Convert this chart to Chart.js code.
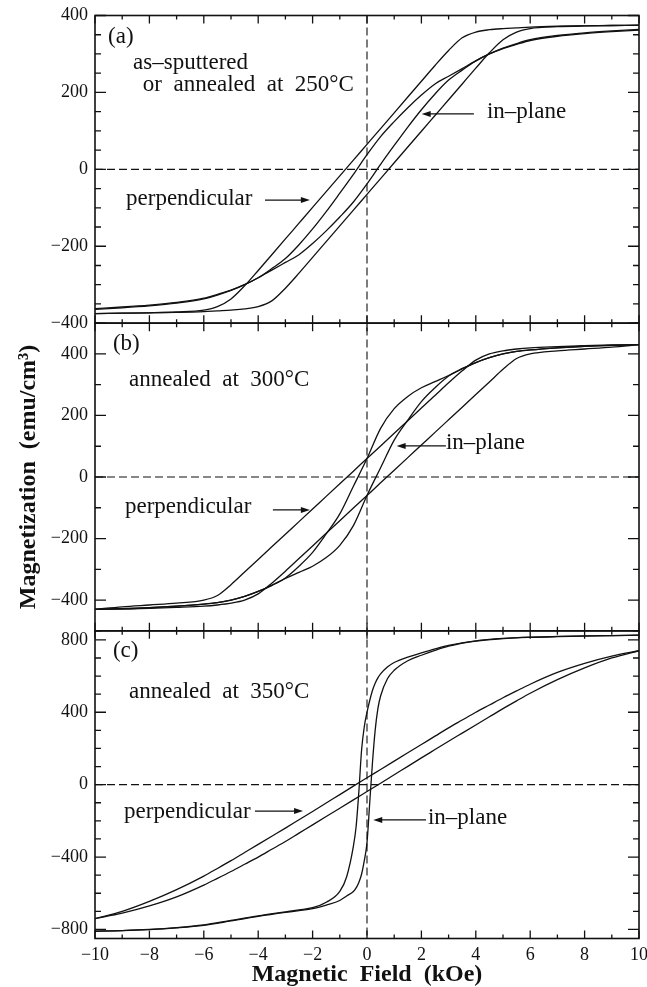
<!DOCTYPE html>
<html>
<head>
<meta charset="utf-8">
<title>Magnetization loops</title>
<script src="https://cdn.jsdelivr.net/npm/chart.js@4.4.0/dist/chart.umd.min.js"></script>
<style>
body { margin: 0; background: #fff; }
canvas { display: block; }
</style>
</head>
<body>
<canvas id="loops" width="647" height="987"></canvas>
<script>
// field values (kOe) shared by most branches
var fieldGrid = [-10,-9,-8,-7,-6,-5.5,-5,-4.5,-4,-3.5,-3,-2.5,-2,-1.5,-1,-0.5,0,0.5,1,1.5,2,2.5,3,3.5,4,4.5,5,5.5,6,7,8,9,10];
// finer grid for the square in-plane loop of (c)
var fieldFine = [-10,-9,-8,-7,-6,-5,-4,-3,-2.5,-2,-1.5,-1,-0.75,-0.5,-0.4,-0.3,-0.2,-0.1,0,0.1,0.2,0.3,0.4,0.5,0.75,1,1.5,2,2.5,3,4,5,6,7,8,9,10];

// (a) as-sputtered / 250C
var perpA_dec = [-375,-374,-373,-371,-366,-357,-337,-303,-263,-222,-181,-140,-99,-58,-17,24,65,106,147,188,229,270,309,342,357,363,366,368,370,372,373,374,375];
var perpA_inc = [-375,-374,-373,-372,-370,-368,-366,-363,-357,-342,-309,-270,-229,-188,-147,-106,-65,-24,17,58,99,140,181,222,263,303,337,357,366,371,373,374,375];
var inplA_dec = [-362,-358,-353,-346,-335,-325,-314,-300,-282,-258,-232,-196,-155,-110,-62,-13,38,85,124,160,193,222,242,262,282,300,315,327,337,348,355,360,364];
var inplA_inc = [-364,-360,-355,-348,-337,-327,-315,-300,-282,-262,-242,-222,-193,-160,-124,-85,-38,13,62,110,155,196,232,258,282,300,314,325,335,346,353,358,362];

// (b) 300C
var perpB_dec = [-430,-422,-416,-410,-400,-385,-350,-309,-268,-227,-186,-145,-104,-63,-22,19,60,101,142,183,224,265,306,345,380,400,410,416,420,424,427,429,430];
var perpB_inc = [-430,-429,-427,-424,-420,-416,-410,-400,-380,-345,-306,-265,-224,-183,-142,-101,-60,-19,22,63,104,145,186,227,268,309,350,385,400,410,416,422,430];
var inplB_dec = [-430,-428,-425,-420,-413,-408,-400,-388,-372,-352,-328,-290,-245,-185,-120,-30,60,158,222,262,290,310,330,352,372,388,400,408,413,420,425,428,430];
var inplB_inc = [-430,-428,-425,-420,-413,-408,-400,-388,-372,-352,-330,-310,-290,-262,-222,-158,-60,30,120,185,245,290,328,352,372,388,400,408,413,420,425,428,430];

// (c) 350C
var perpC_dec = [-740,-700,-645,-580,-505,-463,-420,-375,-330,-285,-240,-194,-148,-101,-55,-8,38,84,130,176,222,268,314,357,400,440,480,518,555,620,670,710,740];
var perpC_inc = [-740,-710,-670,-620,-555,-518,-480,-440,-400,-357,-314,-268,-222,-176,-130,-84,-38,8,55,101,148,194,240,285,330,375,420,463,505,580,645,700,740];
var inplC_dec = [-809,-806,-800,-790,-775,-750,-725,-703,-692,-680,-650,-590,-510,-340,-231,-40,190,320,400,465,520,560,590,612,650,675,705,728,750,770,795,808,815,819,822,824,826];
var inplC_inc = [-810,-807,-801,-791,-777,-753,-728,-706,-696,-685,-665,-640,-615,-590,-570,-540,-495,-420,-320,-100,120,300,420,490,585,632,685,715,742,765,793,807,814,818,821,823,826];

// labelled ticks
var fieldLabels = [-10,-8,-6,-4,-2,0,2,4,6,8,10];
var ticksA = [-400,-200,0,200,400];
var ticksB = [-400,-200,0,200,400];
var ticksC = [-800,-400,0,400,800];

var ink = '#111';
var serif = 'Liberation Serif';

var panels = {
    ya: {min: -400, max: 400, minor: 50, labels: ticksA},
    yb: {min: -500, max: 500, minor: 100, labels: ticksB},
    yc: {min: -850, max: 850, minor: 100, labels: ticksC}
};

// text and arrows, placed in field / magnetization units of each panel
var notes = [
    {axis: 'ya', x: -9.52, y: 344, text: '(a)'},
    {axis: 'ya', x: -8.6, y: 276, text: 'as\u2013sputtered'},
    {axis: 'ya', x: -8.24, y: 219, text: 'or  annealed  at  250\u00b0C'},
    {axis: 'ya', x: -8.86, y: -77, text: 'perpendicular'},
    {axis: 'ya', x: 4.41, y: 149, text: 'in\u2013plane'},
    {axis: 'yb', x: -9.34, y: 432, text: '(b)'},
    {axis: 'yb', x: -8.75, y: 315, text: 'annealed  at  300\u00b0C'},
    {axis: 'yb', x: -8.9, y: -97, text: 'perpendicular'},
    {axis: 'yb', x: 2.9, y: 110, text: 'in\u2013plane'},
    {axis: 'yc', x: -9.34, y: 739, text: '(c)'},
    {axis: 'yc', x: -8.75, y: 512, text: 'annealed  at  350\u00b0C'},
    {axis: 'yc', x: -8.93, y: -151, text: 'perpendicular'},
    {axis: 'yc', x: 2.24, y: -184, text: 'in\u2013plane'}
];
var arrows = [
    {axis: 'ya', from: -3.75, to: -2.1, y: -80},
    {axis: 'ya', from: 3.93, to: 2.01, y: 144},
    {axis: 'yb', from: -3.46, to: -2.1, y: -107},
    {axis: 'yb', from: 2.9, to: 1.09, y: 101},
    {axis: 'yc', from: -4.12, to: -2.35, y: -146},
    {axis: 'yc', from: 2.17, to: 0.23, y: -195}
];

var fmt = function(v){
    return v < 0 ? '\u2212' + Math.abs(v) : String(v);
};

var branch = function(fields, values, axis){
    return {
        data: fields.map(function(h, i){ return {x: h, y: values[i]}; }),
        yAxisID: axis,
        borderColor: ink,
        borderWidth: 1.3,
        pointRadius: 0,
        fill: false,
        cubicInterpolationMode: 'monotone'
    };
};

var yScale = function(id, title){
    var p = panels[id];
    return {
        type: 'linear',
        position: 'left',
        stack: 'mag',
        stackWeight: 1,
        min: p.min,
        max: p.max,
        grid: {display: false, drawTicks: false},
        border: {display: false},
        afterBuildTicks: function(s){
            var t = [];
            for (var v = Math.ceil(p.min / p.minor) * p.minor; v <= p.max; v += p.minor) t.push({value: v});
            s.ticks = t;
        },
        afterFit: function(s){
            s.width = 95;
            s.paddingTop = 0;
            s.paddingBottom = 0;
        },
        ticks: {
            autoSkip: false,
            padding: 7,
            color: ink,
            font: {family: serif, size: 18},
            callback: function(v){ return p.labels.indexOf(v) >= 0 ? fmt(v) : ''; }
        },
        title: title ? {
            display: true,
            text: title,
            color: ink,
            font: {family: serif, size: 24, weight: 'bold', lineHeight: 1},
            padding: {top: 17, bottom: 0}
        } : {display: false}
    };
};

var drawArrow = function(ctx, x1, x2, y){
    var d = x2 > x1 ? 1 : -1;
    ctx.beginPath();
    ctx.moveTo(x1, y);
    ctx.lineTo(x2 - d * 4, y);
    ctx.stroke();
    ctx.beginPath();
    ctx.moveTo(x2, y);
    ctx.lineTo(x2 - d * 9, y - 3);
    ctx.lineTo(x2 - d * 9, y + 3);
    ctx.closePath();
    ctx.fill();
};

// frames, inward ticks, zero lines and annotations
var framePlugin = {
    id: 'frames',
    afterDraw: function(chart){
        var ctx = chart.ctx, area = chart.chartArea, xs = chart.scales.x;
        ctx.save();
        ctx.strokeStyle = ink;
        ctx.fillStyle = ink;
        Object.keys(panels).forEach(function(id){
            var s = chart.scales[id];
            var y0 = s.getPixelForValue(0);
            ctx.setLineDash([8, 4]);
            ctx.lineWidth = 1.1;
            ctx.beginPath();
            ctx.moveTo(area.left, y0);
            ctx.lineTo(area.right, y0);
            ctx.stroke();
            ctx.setLineDash([]);

            ctx.lineWidth = 1.3;
            ctx.beginPath();
            s.ticks.forEach(function(t){
                var y = s.getPixelForValue(t.value);
                var len = panels[id].labels.indexOf(t.value) >= 0 ? 11 : 6;
                ctx.moveTo(area.left, y); ctx.lineTo(area.left + len, y);
                ctx.moveTo(area.right, y); ctx.lineTo(area.right - len, y);
            });
            xs.ticks.forEach(function(t){
                var x = xs.getPixelForValue(t.value);
                var len = t.value % 2 === 0 ? 8 : 4;
                ctx.moveTo(x, s.top); ctx.lineTo(x, s.top + len);
                ctx.moveTo(x, s.bottom); ctx.lineTo(x, s.bottom - len);
            });
            ctx.stroke();

            ctx.lineWidth = 1.6;
            ctx.strokeRect(area.left, s.top, area.right - area.left, s.bottom - s.top);
        });

        var x0 = xs.getPixelForValue(0);
        ctx.setLineDash([8, 4]);
        ctx.lineWidth = 1.1;
        ctx.beginPath();
        ctx.moveTo(x0, area.top);
        ctx.lineTo(x0, area.bottom);
        ctx.stroke();
        ctx.setLineDash([]);

        ctx.font = '23px "' + serif + '"';
        ctx.textBaseline = 'middle';
        ctx.textAlign = 'left';
        notes.forEach(function(n){
            var s = chart.scales[n.axis];
            ctx.fillText(n.text, xs.getPixelForValue(n.x), s.getPixelForValue(n.y));
        });
        ctx.lineWidth = 1.2;
        arrows.forEach(function(a){
            var s = chart.scales[a.axis];
            drawArrow(ctx, xs.getPixelForValue(a.from), xs.getPixelForValue(a.to), s.getPixelForValue(a.y));
        });
        ctx.restore();
    }
};

var datasets = [
    branch(fieldGrid, perpA_dec, 'ya'), branch(fieldGrid, perpA_inc, 'ya'),
    branch(fieldGrid, inplA_dec, 'ya'), branch(fieldGrid, inplA_inc, 'ya'),
    branch(fieldGrid, perpB_dec, 'yb'), branch(fieldGrid, perpB_inc, 'yb'),
    branch(fieldGrid, inplB_dec, 'yb'), branch(fieldGrid, inplB_inc, 'yb'),
    branch(fieldGrid, perpC_dec, 'yc'), branch(fieldGrid, perpC_inc, 'yc'),
    branch(fieldFine, inplC_dec, 'yc'), branch(fieldFine, inplC_inc, 'yc')
];

new Chart(document.getElementById('loops').getContext('2d'), {
    type: 'line',
    data: {datasets: datasets},
    plugins: [framePlugin],
    options: {
        responsive: false,
        animation: false,
        events: [],
        layout: {padding: {top: 15.5, right: 8, bottom: 0, left: 0}},
        plugins: {legend: {display: false}, tooltip: {enabled: false}},
        scales: {
            x: {
                type: 'linear',
                position: 'bottom',
                min: -10,
                max: 10,
                grid: {display: false, drawTicks: false},
                border: {display: false},
                afterBuildTicks: function(s){
                    var t = [];
                    for (var v = -10; v <= 10; v++) t.push({value: v});
                    s.ticks = t;
                },
                afterFit: function(s){
                    s.height = 48.5;
                    s.paddingLeft = 0;
                    s.paddingRight = 0;
                },
                ticks: {
                    autoSkip: false,
                    maxRotation: 0,
                    padding: 6,
                    color: ink,
                    font: {family: serif, size: 18},
                    callback: function(v){ return fieldLabels.indexOf(v) >= 0 ? fmt(v) : ''; }
                },
                title: {
                    display: true,
                    text: 'Magnetic  Field  (kOe)',
                    color: ink,
                    font: {family: serif, size: 24, weight: 'bold', lineHeight: 1},
                    padding: {top: 0, bottom: 0}
                }
            },
            // last left scale in the stack is placed on top
            yc: yScale('yc'),
            yb: yScale('yb', 'Magnetization  (emu/cm\u00b3)'),
            ya: yScale('ya')
        }
    }
});
</script>
</body>
</html>
